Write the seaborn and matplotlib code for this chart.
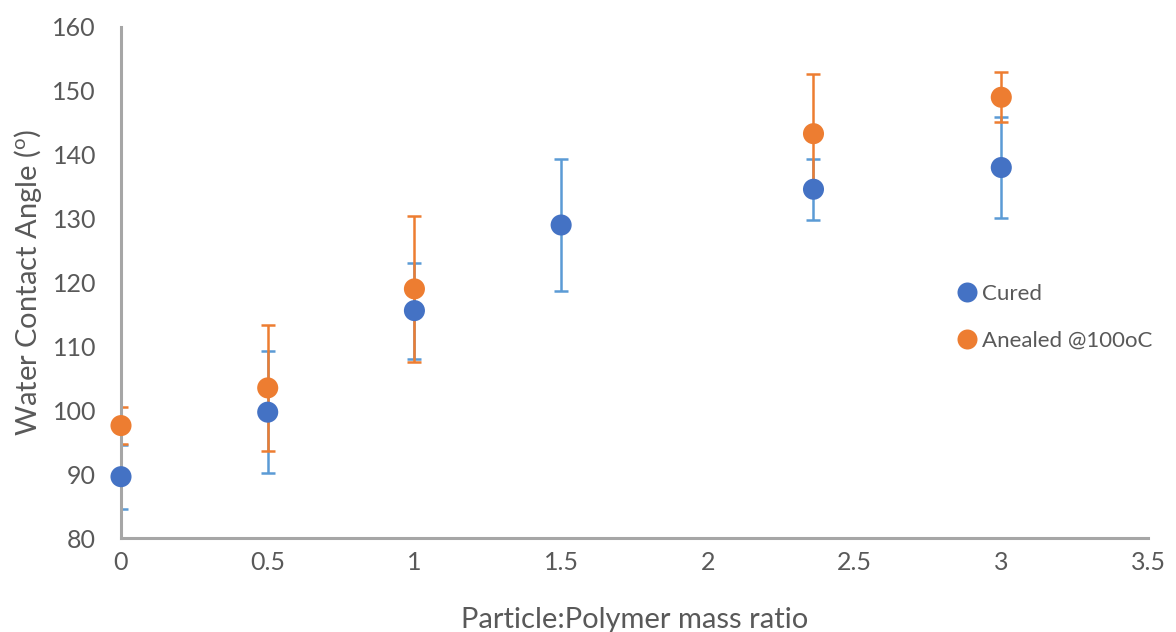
import matplotlib
matplotlib.use("Agg")
import matplotlib.pyplot as plt
import seaborn as sns
import pandas as pd

# Data
ratio_cured = [0, 0.5, 1, 1.5, 2.36, 3]
angle_cured = [89.6, 99.7, 115.6, 129.0, 134.6, 138.0]
err_cured = [5.0, 9.6, 7.5, 10.3, 4.8, 7.9]

ratio_anneal = [0, 0.5, 1, 2.36, 3]
angle_anneal = [97.6, 103.5, 119.0, 143.3, 149.0]
err_anneal = [2.9, 9.9, 11.4, 9.4, 3.9]

series_names = ["Cured", "Anealed @100oC"]

sns.set_style("white")
plt.rcParams['font.family'] = ['Lato', 'DejaVu Sans']
plt.rcParams['mathtext.default'] = 'regular'

df = pd.concat([
    pd.DataFrame({"x": ratio_cured, "y": angle_cured, "s": series_names[0]}),
    pd.DataFrame({"x": ratio_anneal, "y": angle_anneal, "s": series_names[1]}),
])

fig = plt.figure(figsize=(11.76, 6.32), dpi=100)
ax = fig.add_axes([121/1176, 1 - 538/632, (1148-121)/1176, (538-27)/632])

ax.errorbar(ratio_cured, angle_cured, yerr=err_cured, fmt='none',
            ecolor='#5B9BD5', elinewidth=1.8, capsize=5, capthick=1.8, zorder=2)
ax.errorbar(ratio_anneal, angle_anneal, yerr=err_anneal, fmt='none',
            ecolor='#ED7D31', elinewidth=1.8, capsize=5, capthick=1.8, zorder=2.5)

sns.scatterplot(data=df, x="x", y="y", hue="s",
                palette={series_names[0]: '#4472C4', series_names[1]: '#ED7D31'},
                s=230, edgecolor='none', ax=ax, zorder=3, clip_on=False)

ax.set_xlim(0, 3.5)
ax.set_ylim(80, 160)
ax.set_xticks([0, 0.5, 1, 1.5, 2, 2.5, 3, 3.5])
ax.set_xticklabels(['0', '0.5', '1', '1.5', '2', '2.5', '3', '3.5'])
ax.set_yticks(range(80, 161, 10))

for side in ['top', 'right']:
    ax.spines[side].set_visible(False)
for side in ['left', 'bottom']:
    ax.spines[side].set_color('#a6a6a6')
    ax.spines[side].set_linewidth(2.2)

ax.tick_params(axis='both', length=0, labelsize=18, colors='#595959')
ax.tick_params(axis='y', pad=18)
ax.tick_params(axis='x', pad=9)
ax.set_xlabel('Particle:Polymer mass ratio', fontsize=21, color='#595959', labelpad=24)
ax.set_ylabel('Water Contact Angle ($^{o}$)', fontsize=21, color='#595959', labelpad=6)

leg = ax.legend(loc='center left', bbox_to_anchor=(0.793, 0.432), frameon=False,
                fontsize=16, handletextpad=-0.3, labelspacing=1.2, markerscale=0.95,
                title=None, borderaxespad=0)
for t in leg.get_texts():
    t.set_color('#595959')

fig.savefig('out.png', dpi=100)
